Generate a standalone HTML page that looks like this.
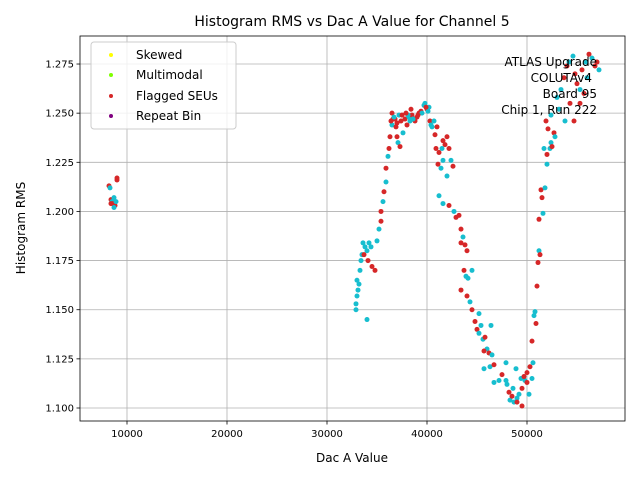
<!DOCTYPE html>
<html><head><meta charset="utf-8"><style>body{margin:0;background:#fff}svg{font-family:"DejaVu Sans","Liberation Sans",sans-serif}</style></head>
<body>
<svg id="c" width="640" height="480" xmlns="http://www.w3.org/2000/svg"></svg>
<script>
const xTicks=[10000,20000,30000,40000,50000];
const yTicks=[1.100,1.125,1.150,1.175,1.200,1.225,1.250,1.275];
const dacX=[8200,8300,8400,8500,8600,8700,8800,8900,9000,9000,8700,8400,
32900,32900,33000,33100,33000,33200,33300,33400,33500,33600,33800,34000,34200,34400,34000,33700,34500,34800,34100,35000,35200,35400,35400,35600,35700,35900,35900,36100,36200,36300,36500,36500,36800,37000,37100,37300,37600,37000,37400,37800,38000,38200,38400,38500,38700,39000,39200,39400,39700,39800,40000,40200,40300,40500,40800,41000,40900,41200,41600,41800,42000,42200,42400,42600,41100,41400,41600,42000,41200,41600,42200,42700,42900,43200,43400,43600,43400,43800,44000,43700,43900,44100,44500,43400,44000,44300,44500,45200,44800,45000,45200,45400,45600,45800,46000,46200,46500,45700,46300,46700,47200,47500,48000,48200,48300,48500,48700,49000,49200,49500,49800,50000,50300,50000,49500,49000,48600,47900,46400,45700,46700,47900,48900,49400,49700,50200,50500,50700,50900,50600,50500,50800,51000,51100,51200,51300,51600,51500,51400,51800,51200,52000,52300,52400,52500,52100,51900,52400,52700,52800,51700,52000,53200,53000,53400,53700,54000,54200,54600,54800,55000,55300,55700,55500,55900,56200,56500,56800,57000,57200,56000,55300,54700,54300,53800,36600,37200,38800,39500,36900,38100,
37500,38300,39100,40100,40700,36700,37900,38600,39900,40400,41500,36400];
const rmsY=[1.213,1.212,1.206,1.205,1.204,1.207,1.203,1.205,1.216,1.217,1.202,1.204,
1.150,1.153,1.157,1.160,1.165,1.163,1.170,1.175,1.178,1.184,1.182,1.180,1.184,1.182,1.145,1.178,1.172,1.170,1.175,1.185,1.191,1.195,1.200,1.205,1.210,1.215,1.222,1.228,1.232,1.238,1.244,1.250,1.247,1.238,1.235,1.233,1.240,1.245,1.246,1.247,1.244,1.248,1.252,1.249,1.247,1.248,1.250,1.251,1.254,1.255,1.252,1.253,1.246,1.243,1.239,1.243,1.232,1.230,1.236,1.234,1.238,1.232,1.226,1.223,1.224,1.222,1.226,1.218,1.208,1.204,1.203,1.200,1.197,1.198,1.191,1.187,1.184,1.183,1.180,1.170,1.167,1.166,1.170,1.160,1.157,1.154,1.150,1.148,1.144,1.140,1.138,1.142,1.135,1.136,1.130,1.128,1.127,1.120,1.121,1.122,1.114,1.117,1.112,1.108,1.104,1.106,1.103,1.105,1.107,1.110,1.114,1.118,1.121,1.113,1.101,1.103,1.110,1.114,1.142,1.129,1.113,1.123,1.120,1.115,1.116,1.107,1.115,1.147,1.143,1.123,1.134,1.149,1.162,1.174,1.180,1.178,1.199,1.207,1.211,1.212,1.196,1.224,1.232,1.235,1.233,1.242,1.246,1.249,1.240,1.238,1.232,1.229,1.252,1.258,1.262,1.268,1.274,1.276,1.279,1.270,1.265,1.262,1.260,1.272,1.276,1.280,1.278,1.274,1.276,1.272,1.268,1.255,1.246,1.255,1.246,1.247,1.249,1.246,1.250,1.243,1.249,
1.249,1.246,1.249,1.251,1.246,1.248,1.250,1.247,1.253,1.244,1.232,1.246];
const flagged="rcrcrcrcrrcr"+"cccccccccccccccrrrrccrrcrcrcrrcrrrcrcrrrrcrrrrrrccrcrcrrrrrrrrcrrcccccrcrrrcrrrrcccrrcrcrrcccrcrcccrcrcrcrcccrcrrrrrcccrccccrcccrcrcrrcrcrrcrcccrrrcrccrcccrrccrrcrrcrcrrccrrrcrcrcrcrcrc"+"ccrcrccrcccr";
const S="http://www.w3.org/2000/svg",svg=document.getElementById('c');
const L=80,R=625,T=36,B=421;
const sx=v=>27+v/100, sy=v=>408-(v-1.1)/0.025*49.14;
function el(t,a,p){const e=document.createElementNS(S,t);for(const k in a)e.setAttribute(k,a[k]);(p||svg).appendChild(e);return e;}
el('rect',{x:0,y:0,width:640,height:480,fill:'#fff'});
const grid=el('g',{});


xTicks.forEach(t=>{el('line',{x1:sx(t),x2:sx(t),y1:T,y2:B,stroke:'#b0b0b0','stroke-width':0.8},grid);el('line',{x1:sx(t),x2:sx(t),y1:B,y2:B+3.5,stroke:'#000','stroke-width':0.8});
const tx=el('text',{x:sx(t),y:B+16,'text-anchor':'middle','font-size':10});tx.textContent=t;

});
yTicks.forEach(t=>{el('line',{x1:L,x2:R,y1:sy(t),y2:sy(t),stroke:'#b0b0b0','stroke-width':0.8},grid);el('line',{x1:L-3.5,x2:L,y1:sy(t),y2:sy(t),stroke:'#000','stroke-width':0.8});
const tx=el('text',{x:L-6,y:sy(t)+3.5,'text-anchor':'end','font-size':10});tx.textContent=t.toFixed(3);

});
const pts=el('g',{});


dacX.forEach((x,i)=>{const c=el('circle',{cx:sx(x),cy:sy(rmsY[i]),r:2.5,fill:flagged[i]==='r'?'#d62728':'#17becf'},pts);

});
const fr=el('rect',{x:L,y:T,width:R-L,height:B-T,fill:'none',stroke:'#000','stroke-width':0.8});


</script>
<svg width="640" height="480" style="position:absolute;left:0;top:0" xmlns="http://www.w3.org/2000/svg" font-family="DejaVu Sans, Liberation Sans, sans-serif">
<text x="352" y="26" text-anchor="middle" font-size="14">Histogram RMS vs Dac A Value for Channel 5</text>
<text x="352" y="462" text-anchor="middle" font-size="12">Dac A Value</text>
<text transform="translate(25,228) rotate(-90)" text-anchor="middle" font-size="12">Histogram RMS</text>
<g>
<rect x="91" y="42" width="145" height="87" rx="3" fill="#fff" fill-opacity="0.8" stroke="#ccc"/>
<g font-size="12">
<circle cx="111" cy="55" r="2" fill="#ffff00"/><text x="136" y="59">Skewed</text>
<circle cx="111" cy="75" r="2" fill="#7fff00"/><text x="136" y="79">Multimodal</text>
<circle cx="111" cy="96" r="2" fill="#d62728"/><text x="136" y="100">Flagged SEUs</text>
<circle cx="111" cy="116" r="2" fill="#800080"/><text x="136" y="120">Repeat Bin</text>
</g></g>
<g font-size="12" text-anchor="end">
<text x="597" y="66">ATLAS Upgrade</text><text x="592" y="82">COLUTAv4</text><text x="597" y="98">Board 95</text><text x="597" y="114">Chip 1, Run 222</text>
</g>
</svg>
</body></html>
